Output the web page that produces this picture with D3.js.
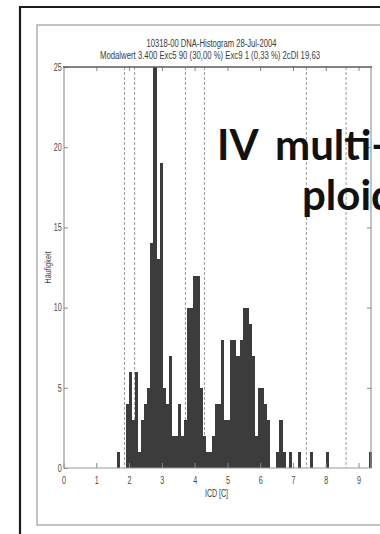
<!DOCTYPE html>
<html lang="de">
<head>
  <meta charset="UTF-8">
  <title>DNA-Histogramm</title>
  <script src="https://d3js.org/d3.v7.min.js"></script>
  <style>
    html, body {
      margin: 0;
      padding: 0;
      background: #fff;
    }
    svg {
      display: block;
    }
    .tick text {
      fill: #484848;
      font-family: "Liberation Sans", Arial, sans-serif;
      font-size: 10px;
    }
    .tick line {
      stroke: #888;
    }
    .lbl {
      font-family: "Liberation Sans", Arial, sans-serif;
      fill: #3a3a3a;
    }
    .big {
      font-family: Lato, "Open Sans", sans-serif;
      font-weight: bold;
      font-size: 42px;
      fill: #111;
    }
  </style>
</head>
<body>
  <div id="chart"></div>
  <script>
    // Klassen des Histogramms (ICD in c), Anzahl Zellen je Klasse
    const binStart = 1.62;
    const binWidth = 0.09375;
    const counts = [
      1, 0, 0, 4, 6, 3, 6, 1, 3, 4,
      5, 14, 25, 13, 19, 5, 4, 7, 2, 2,
      4, 2, 3, 10, 10, 12, 12, 5, 2, 1,
      1, 2, 4, 4, 8, 3, 3, 8, 8, 7,
      8, 10, 10, 9, 7, 2, 5, 5, 4, 3,
      0, 0, 1, 3, 1, 0, 1, 0, 0, 1,
      0, 0, 0, 1, 0, 0, 0, 0, 1, 0,
      0, 0, 0, 0, 0, 0, 0, 0, 0, 0,
      0, 0, 1
    ];
    // gestrichelte Grenzlinien
    const markerLines = [1.86, 2.17, 3.72, 4.30, 7.41, 8.62];
    const xTicks = [0, 1, 2, 3, 4, 5, 6, 7, 8, 9];
    const yTicks = [0, 5, 10, 15, 20, 25];

    const title = "10318-00 DNA-Histogram 28-Jul-2004";
    const subtitle = "Modalwert 3.400 Exc5 90 (30,00 %) Exc9 1 (0,33 %) 2cDI 19,63";
    const xLabel = "ICD [C]";
    const yLabel = "Häufigkeit";
    const overlay = ["IV", "multi-", "ploid"];

    const W = 380, H = 534;
    const svg = d3.select("#chart").append("svg")
      .attr("width", W)
      .attr("height", H);

    // Rahmen (Folie und gescannte Seite)
    svg.append("path")
      .attr("d", "M380,25 H37 V525 H380")
      .attr("fill", "none")
      .attr("stroke", "#b0b0b0")
      .attr("stroke-width", 1.5);
    svg.append("path")
      .attr("d", "M20,534 V7 H380")
      .attr("fill", "none")
      .attr("stroke", "#1c1c1c")
      .attr("stroke-width", 2.2);

    const x = d3.scaleLinear().domain([0, 9.38]).range([63.5, 371]);
    const y = d3.scaleLinear().domain([0, 25]).range([468, 67]);

    // gestrichelte Linien hinter den Balken
    svg.selectAll(".marker")
      .data(markerLines)
      .enter()
      .append("line")
      .attr("class", "marker")
      .attr("x1", d => x(d))
      .attr("x2", d => x(d))
      .attr("y1", y(25))
      .attr("y2", y(0))
      .attr("stroke", "#999")
      .attr("stroke-width", 1)
      .attr("stroke-dasharray", "3,2");

    // Balken
    const bins = counts.map((c, i) => ({ x0: binStart + i * binWidth, n: c }))
      .filter(d => d.n > 0);
    const bw = x(binWidth) - x(0);

    svg.selectAll(".bar")
      .data(bins)
      .enter()
      .append("rect")
      .attr("class", "bar")
      .attr("x", d => x(d.x0))
      .attr("width", bw)
      .attr("y", d => y(d.n))
      .attr("height", d => y(0) - y(d.n))
      .attr("fill", "#3c3c3c")
      .attr("shape-rendering", "crispEdges");

    // Achsen (Striche nach innen, wie MATLAB)
    const squeeze = sel => sel.selectAll(".tick text").attr("transform", "scale(0.72,1)");

    svg.append("g")
      .attr("transform", `translate(0,${y(0)})`)
      .call(d3.axisBottom(x).tickValues(xTicks).tickSizeInner(-5).tickSizeOuter(0).tickPadding(9))
      .call(g => g.select(".domain").remove())
      .call(squeeze);

    svg.append("g")
      .attr("transform", `translate(0,${y(25)})`)
      .call(d3.axisTop(x).tickValues(xTicks.slice(1)).tickSizeInner(-4).tickSizeOuter(0).tickFormat(""))
      .call(g => g.select(".domain").remove());

    svg.append("g")
      .attr("transform", `translate(64,0)`)
      .call(d3.axisLeft(y).tickValues(yTicks).tickSizeInner(-4).tickSizeOuter(0).tickPadding(3))
      .call(g => g.select(".domain").remove())
      .call(squeeze);

    svg.append("g")
      .attr("transform", `translate(371,0)`)
      .call(d3.axisRight(y).tickValues(yTicks.slice(1, 5)).tickSizeInner(-4).tickSizeOuter(0).tickFormat(""))
      .call(g => g.select(".domain").remove());

    // Rahmen des Diagramms
    svg.append("path")
      .attr("d", `M64,${y(25)} V${y(0)} H371 V${y(25)}`)
      .attr("fill", "none")
      .attr("stroke", "#9a9a9a")
      .attr("stroke-width", 1.2);
    svg.append("line")
      .attr("x1", 63).attr("x2", 372)
      .attr("y1", y(25)).attr("y2", y(25))
      .attr("stroke", "#5a5a5a")
      .attr("stroke-width", 1.6);

    // Texte
    svg.append("text")
      .attr("class", "lbl")
      .attr("x", 211.5).attr("y", 46.5)
      .attr("text-anchor", "middle")
      .attr("font-size", 10)
      .attr("textLength", 130)
      .attr("lengthAdjust", "spacingAndGlyphs")
      .text(title);

    svg.append("text")
      .attr("class", "lbl")
      .attr("x", 210).attr("y", 58.5)
      .attr("text-anchor", "middle")
      .attr("font-size", 10)
      .attr("textLength", 220)
      .attr("lengthAdjust", "spacingAndGlyphs")
      .text(subtitle);

    svg.append("text")
      .attr("class", "lbl")
      .attr("x", 216.5).attr("y", 496.5)
      .attr("text-anchor", "middle")
      .attr("font-size", 10)
      .attr("textLength", 23)
      .attr("lengthAdjust", "spacingAndGlyphs")
      .text(xLabel);

    svg.append("text")
      .attr("class", "lbl")
      .attr("transform", "translate(51,267.5) rotate(-90)")
      .attr("text-anchor", "middle")
      .attr("font-size", 9)
      .attr("textLength", 32)
      .attr("lengthAdjust", "spacingAndGlyphs")
      .text(yLabel);

    // großer Folientext, rechts vom Bildrand abgeschnitten wie im Original
    svg.append("text").attr("class", "big").attr("x", 217).attr("y", 160).text(overlay[0]);
    svg.append("text").attr("class", "big").attr("x", 275).attr("y", 160).text(overlay[1]);
    svg.append("text").attr("class", "big").attr("x", 302).attr("y", 210).text(overlay[2]);
  </script>
</body>
</html>
